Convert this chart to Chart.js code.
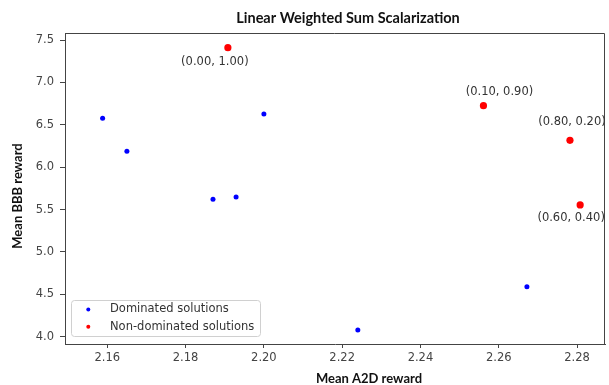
<!DOCTYPE html>
<html>
<head>
<meta charset="utf-8">
<script src="https://cdn.jsdelivr.net/npm/chart.js@4.4.1/dist/chart.umd.min.js"></script>
<style>
  html, body { margin: 0; padding: 0; background: #ffffff; }
  #wrap { width: 609px; height: 385px; position: relative; }
</style>
</head>
<body>
<div id="wrap"><canvas id="c" width="609" height="385"></canvas></div>
<script>
// ---- data ----
const dominatedX = [2.1588, 2.1650, 2.1870, 2.1929, 2.2000, 2.2240, 2.2672];
const dominatedY = [6.576, 6.187, 5.621, 5.648, 6.627, 4.079, 4.588];
const nonDominatedX = [2.1908, 2.2561, 2.2782, 2.2808];
const nonDominatedY = [7.409, 6.725, 6.317, 5.554];
const nonDominatedLabels = ['(0.00, 1.00)', '(0.10, 0.90)', '(0.80, 0.20)', '(0.60, 0.40)'];
const xTicks = [2.16, 2.18, 2.20, 2.22, 2.24, 2.26, 2.28];
const xTickLabels = ['2.16', '2.18', '2.20', '2.22', '2.24', '2.26', '2.28'];
const yTicks = [4.0, 4.5, 5.0, 5.5, 6.0, 6.5, 7.0, 7.5];
const yTickLabels = ['4.0', '4.5', '5.0', '5.5', '6.0', '6.5', '7.0', '7.5'];
const seriesNames = ['Dominated solutions', 'Non-dominated solutions'];
const chartTitle = 'Linear Weighted Sum Scalarization';
const xTitle = 'Mean A2D reward';
const yTitle = 'Mean BBB reward';

// ---- style ----
const axisColor = '#444444';
const tickFont = { family: 'DejaVu Sans', size: 11.5 };
const boldFamily = 'Lato';
// annotation text offsets (pixels from the point, text centre)
const annotOffsets = [[-13, 14], [16, -14], [2, -18], [-9, 13]];

const toPts = (xs, ys) => xs.map((x, i) => ({ x: x, y: ys[i] }));

const decor = {
  id: 'decor',
  afterDraw(chart) {
    const ctx = chart.ctx;
    const a = chart.chartArea;
    ctx.save();
    // frame top & right
    ctx.strokeStyle = axisColor;
    ctx.lineWidth = 1;
    ctx.beginPath();
    ctx.moveTo(a.left, a.top + 0.5);
    ctx.lineTo(a.right - 0.5, a.top + 0.5);
    ctx.lineTo(a.right - 0.5, a.bottom);
    ctx.stroke();

    // titles
    ctx.fillStyle = '#111111';
    ctx.textAlign = 'center';
    ctx.textBaseline = 'middle';
    ctx.font = 'bold 14.5px ' + boldFamily;
    ctx.fillText(chartTitle, 348, 18);
    ctx.font = 'bold 13px ' + boldFamily;
    ctx.fillText(xTitle, 369, 379);
    ctx.save();
    ctx.translate(17.5, 196);
    ctx.rotate(-Math.PI / 2);
    ctx.fillText(yTitle, 0, 0);
    ctx.restore();

    // annotations
    const meta = chart.getDatasetMeta(1);
    ctx.font = '11.5px DejaVu Sans';
    ctx.fillStyle = '#333333';
    meta.data.forEach((pt, i) => {
      const o = annotOffsets[i];
      ctx.fillText(nonDominatedLabels[i], pt.x + o[0], pt.y + o[1]);
    });

    // legend
    const lx = 71.5, ly = 300.5, lw = 189, lh = 36;
    ctx.fillStyle = 'rgba(255,255,255,0.85)';
    ctx.strokeStyle = '#d0d0d0';
    ctx.lineWidth = 1;
    ctx.beginPath();
    if (ctx.roundRect) ctx.roundRect(lx, ly, lw, lh, 3); else ctx.rect(lx, ly, lw, lh);
    ctx.fill();
    ctx.stroke();
    ctx.textAlign = 'left';
    ctx.font = '11.5px DejaVu Sans';
    chart.data.datasets.forEach((ds, i) => {
      const yy = 309.5 + i * 17.3;
      ctx.fillStyle = ds.backgroundColor;
      ctx.beginPath();
      ctx.arc(88.3, yy, 2, 0, Math.PI * 2);
      ctx.fill();
      ctx.fillStyle = '#333333';
      ctx.fillText(ds.label, 110, yy);
    });
    ctx.restore();
  }
};

new Chart(document.getElementById('c'), {
  type: 'scatter',
  data: {
    datasets: [
      {
        label: seriesNames[0],
        data: toPts(dominatedX, dominatedY),
        backgroundColor: '#0000ff',
        borderWidth: 0,
        pointRadius: 2.5,
        pointHoverRadius: 2.5
      },
      {
        label: seriesNames[1],
        data: toPts(nonDominatedX, nonDominatedY),
        backgroundColor: '#ff0000',
        borderWidth: 0,
        pointRadius: 3.6,
        pointHoverRadius: 3.6
      }
    ]
  },
  options: {
    responsive: false,
    animation: false,
    events: [],
    layout: { padding: { top: 33, right: 4, bottom: 0, left: 0 } },
    plugins: {
      legend: { display: false },
      title: { display: false },
      tooltip: { enabled: false }
    },
    scales: {
      x: {
        type: 'linear',
        min: 2.14919,
        max: 2.28715,
        afterFit(s) { s.height = 41; },
        afterBuildTicks(s) { s.ticks = xTicks.map(v => ({ value: v })); },
        grid: { drawOnChartArea: false, drawTicks: true, tickLength: 4, color: axisColor },
        border: { display: true, color: axisColor, width: 1 },
        ticks: {
          color: '#444444',
          font: tickFont,
          padding: 3,
          maxRotation: 0,
          autoSkip: false,
          callback: (v, i) => xTickLabels[i]
        }
      },
      y: {
        type: 'linear',
        min: 3.9139,
        max: 7.5826,
        afterFit(s) { s.width = 65; },
        afterBuildTicks(s) { s.ticks = yTicks.map(v => ({ value: v })); },
        grid: { drawOnChartArea: false, drawTicks: true, tickLength: 5, color: axisColor },
        border: { display: true, color: axisColor, width: 1 },
        ticks: {
          color: '#444444',
          font: tickFont,
          padding: 6,
          autoSkip: false,
          callback: (v, i) => yTickLabels[i]
        }
      }
    }
  },
  plugins: [decor]
});
</script>
</body>
</html>
